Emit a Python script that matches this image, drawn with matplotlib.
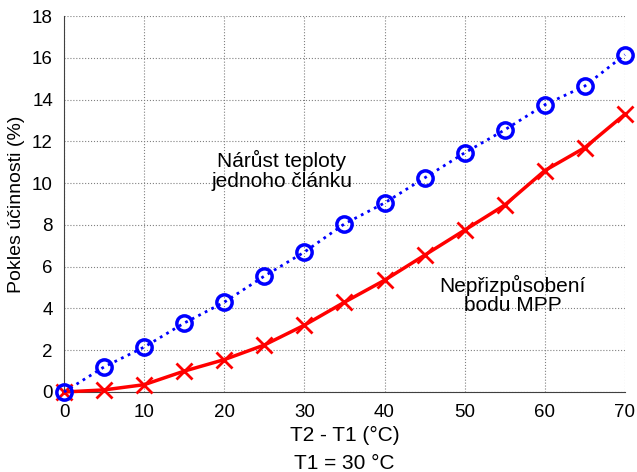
import matplotlib.pyplot as plt

plt.rcParams['font.family'] = ['Liberation Sans', 'DejaVu Sans']

# T2 - T1 (°C)
dT = [0, 5, 10, 15, 20, 25, 30, 35, 40, 45, 50, 55, 60, 65, 70]
# narust teploty jednoho clanku
teplota = [0, 1.2, 2.15, 3.3, 4.3, 5.55, 6.7, 8.05, 9.05, 10.25, 11.45, 12.55, 13.75, 14.65, 16.15]
# neprizpusobeni bodu MPP
mpp = [0, 0.1, 0.35, 1.0, 1.55, 2.25, 3.2, 4.3, 5.35, 6.55, 7.75, 8.95, 10.6, 11.7, 13.3]

fig = plt.figure(figsize=(6.37, 4.72), dpi=100)
ax = fig.add_axes([0.1005, 0.1695, 0.8805, 0.7965])

ax.plot(dT, mpp, color='#ff0000', linestyle='-', linewidth=2.5,
        marker='x', markersize=11, markeredgewidth=2, clip_on=False, zorder=3)
ax.plot(dT, teplota, color='#0000ff', linestyle=':', linewidth=2,
        marker='o', markersize=11, markerfacecolor='none', markeredgewidth=2.5,
        clip_on=False, zorder=4)

ax.set_xlim(0, 70)
ax.set_ylim(0, 18)
ax.set_xticks(range(0, 71, 10))
ax.set_yticks(range(0, 19, 2))
ax.grid(True, linestyle=':', color='#808080', linewidth=0.8)
ax.tick_params(direction='in', labelsize=13.5, length=0)
ax.tick_params(axis='x', pad=9)
ax.tick_params(axis='y', pad=8)
for s in ['top', 'right']:
    ax.spines[s].set_visible(False)
for s in ['left', 'bottom']:
    ax.spines[s].set_color('#404040')

ax.set_xlabel('T2 - T1 (°C)\nT1 = 30 °C', fontsize=15, linespacing=1.6, labelpad=3)
ax.set_ylabel('Pokles účinnosti (%)', fontsize=14)
ax.yaxis.set_label_coords(-0.0695, 0.5)

ax.text(27.2, 10.6, 'Nárůst teploty\njednoho článku', fontsize=15,
        ha='center', va='center', linespacing=1.05)
ax.text(56, 4.65, 'Nepřizpůsobení\nbodu MPP', fontsize=15,
        ha='center', va='center', linespacing=1.05)

fig.savefig('out.png', dpi=100)
